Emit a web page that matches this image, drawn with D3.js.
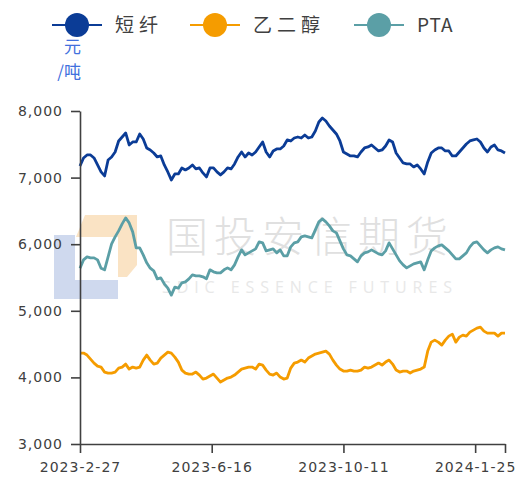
<!DOCTYPE html>
<html>
<head>
<meta charset="utf-8">
<script src="https://cdn.jsdelivr.net/npm/d3@7"></script>
<style>
  body { margin: 0; background: #fff; }
  svg { display: block; }
</style>
</head>
<body>
<script>
// series names and colours
var seriesNames = ["短纤", "乙二醇", "PTA"];
var seriesColors = ["#0b3c96", "#f59c00", "#5b9fa6"];

// x = trading-day index, one value every 2 trading days (2023-2-27 .. 2024-2-27)
var dayStep = 2;
var lastDay = 242;
var tickDays = [0, 75, 150, 225, 242];
var tickLabels = ["2023-2-27", "2023-6-16", "2023-10-11", "2024-1-25", ""];
var yTicks = [3000, 4000, 5000, 6000, 7000, 8000];

var psf = [7175,7295,7340,7340,7295,7190,7085,7025,7265,7310,7385,7550,7610,7670,7490,7535,7535,7655,7580,7445,
  7415,7370,7310,7325,7190,7085,6965,7055,7055,7145,7115,7145,7190,7130,7145,7070,7010,7145,7145,7085,
  7040,7085,7145,7130,7205,7310,7385,7310,7370,7340,7385,7460,7535,7385,7310,7400,7430,7430,7475,7565,
  7550,7595,7610,7595,7640,7595,7610,7700,7835,7895,7850,7775,7715,7655,7550,7385,7355,7325,7325,7310,
  7385,7445,7460,7490,7445,7400,7415,7475,7565,7535,7370,7295,7220,7205,7205,7160,7190,7130,7055,7235,
  7370,7415,7445,7445,7400,7400,7325,7325,7385,7445,7505,7550,7565,7580,7535,7445,7385,7460,7490,7415,
  7400,7370];

var meg = [4365,4365,4335,4275,4215,4170,4155,4080,4065,4065,4080,4140,4155,4200,4125,4155,4140,4155,4260,4335,
  4260,4200,4215,4290,4335,4380,4365,4305,4230,4110,4065,4050,4050,4080,4035,3975,3990,4020,4050,3990,
  3930,3960,3990,4005,4035,4080,4125,4140,4155,4155,4125,4200,4185,4110,4050,4035,4065,4005,3975,3990,
  4140,4215,4230,4260,4230,4290,4320,4350,4365,4380,4395,4350,4260,4185,4125,4095,4095,4110,4095,4095,
  4110,4155,4140,4155,4185,4215,4185,4230,4260,4200,4110,4080,4095,4095,4065,4095,4110,4125,4155,4395,
  4530,4560,4530,4485,4560,4620,4650,4530,4605,4635,4620,4680,4710,4740,4755,4695,4665,4665,4665,4620,
  4665,4665];

var pta = [5640,5765,5810,5795,5795,5765,5640,5615,5810,6005,6110,6200,6305,6395,6320,6185,5945,5945,5840,5720,
  5640,5600,5480,5495,5405,5340,5235,5355,5340,5420,5435,5480,5540,5525,5525,5510,5480,5615,5585,5570,
  5570,5615,5645,5615,5690,5810,5915,5840,5870,5900,5930,6035,6020,5900,5915,5930,5870,5915,5825,5825,
  5960,6020,6035,6110,6125,6110,6095,6215,6335,6380,6335,6275,6200,6170,6050,5930,5840,5825,5780,5735,
  5825,5870,5885,5915,5885,5855,5840,5900,6020,5930,5840,5750,5690,5645,5675,5705,5720,5735,5615,5765,
  5900,5945,5975,5990,5945,5900,5840,5780,5780,5825,5870,5960,6020,6035,5975,5915,5870,5915,5945,5960,
  5930,5915];

var seriesData = [psf, meg, pta];

var width = 519, height = 479;
var margin = {left: 80, right: 14, top: 111, bottom: 35};

var svg = d3.select("body").append("svg")
  .attr("width", width).attr("height", height);

var x = d3.scaleLinear().domain([0, lastDay]).range([margin.left, width - margin.right]);
var y = d3.scaleLinear().domain([3000, 8000]).range([height - margin.bottom, margin.top]);

// watermark
var wm = svg.append("g").attr("class", "watermark");
wm.append("polygon")
  .attr("points", "54,235 75,235 75,280 118,280 118,299 54,299")
  .attr("fill", "#cfd9ee");
wm.append("polygon")
  .attr("points", "85,215 137,215 137,265 127,277 118,277 118,237 76,237")
  .attr("fill", "#fae3c4");
wm.append("text")
  .attr("x", 166).attr("y", 252)
  .attr("font-family", "'Noto Sans CJK SC', sans-serif")
  .attr("font-weight", 300)
  .attr("font-size", 42)
  .attr("letter-spacing", 6)
  .attr("fill", "#e0e0e0")
  .text("国投安信期货");
wm.append("text")
  .attr("x", 162).attr("y", 293)
  .attr("font-family", "'Open Sans', sans-serif")
  .attr("font-size", 16)
  .attr("textLength", 290)
  .attr("lengthAdjust", "spacing")
  .attr("fill", "#e8e8e8")
  .text("SDIC ESSENCE FUTURES");

// lines
var line = d3.line()
  .x(function(d, i) { return x(i * dayStep); })
  .y(function(d) { return y(d); });

svg.append("g").selectAll("path")
  .data(seriesData)
  .enter().append("path")
    .attr("d", line)
    .attr("fill", "none")
    .attr("stroke", function(d, i) { return seriesColors[i]; })
    .attr("stroke-width", 2.8)
    .attr("stroke-linejoin", "round");

// axes
var yAxis = d3.axisLeft(y).tickValues(yTicks).tickFormat(d3.format(","))
  .tickSize(9).tickSizeOuter(0).tickPadding(8);
var xAxis = d3.axisBottom(x).tickValues(tickDays)
  .tickFormat(function(d, i) { return tickLabels[i]; })
  .tickSize(9).tickSizeOuter(0).tickPadding(9);

var gy = svg.append("g")
  .attr("transform", "translate(" + margin.left + ",0)")
  .call(yAxis);
var gx = svg.append("g")
  .attr("transform", "translate(0," + (height - margin.bottom) + ")")
  .call(xAxis);

[gy, gx].forEach(function(g) {
  g.select(".domain").attr("stroke", "#404040").attr("stroke-width", 1.6);
  g.selectAll(".tick line").attr("stroke", "#404040").attr("stroke-width", 1.6);
  g.selectAll(".tick text")
    .attr("fill", "#404040")
    .attr("font-family", "'DejaVu Sans', sans-serif")
    .attr("font-size", 14)
    .attr("letter-spacing", 1);
});

// unit label, two short lines
var unitLines = ["元", "/吨"];
svg.append("g").selectAll("text")
  .data(unitLines)
  .enter().append("text")
    .attr("x", 81)
    .attr("y", function(d, i) { return 53 + i * 25; })
    .attr("text-anchor", "end")
    .attr("font-family", "'Noto Sans CJK SC', sans-serif")
    .attr("font-size", 17)
    .attr("fill", "#4170dd")
    .text(function(d) { return d; });

// legend
var legendX = [52, 190, 354];
var legend = svg.append("g").selectAll("g")
  .data(seriesNames)
  .enter().append("g")
    .attr("transform", function(d, i) { return "translate(" + legendX[i] + ",25)"; });
legend.append("line")
  .attr("x1", 0).attr("x2", 50)
  .attr("stroke", function(d, i) { return seriesColors[i]; })
  .attr("stroke-width", 2);
legend.append("circle")
  .attr("cx", 25).attr("r", 12)
  .attr("fill", function(d, i) { return seriesColors[i]; });
legend.append("text")
  .attr("x", 63).attr("dy", "0.35em")
  .attr("font-family", "'Noto Sans CJK SC', sans-serif")
  .attr("font-size", 19)
  .attr("letter-spacing", function(d, i) { return i == 2 ? 1 : 5; })
  .attr("fill", "#404040")
  .text(function(d) { return d; });
</script>
</body>
</html>
